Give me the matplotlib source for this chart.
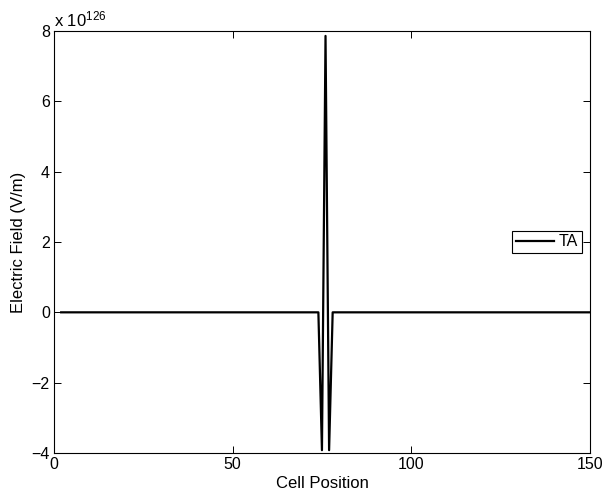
import numpy as np
import matplotlib
matplotlib.use("Agg")
from matplotlib import pyplot as plt

# cell positions 2..150, field is zero except for the blow-up around cell 76
cells = np.arange(2, 151)
spike_cells = [75, 76, 77]
spike_values = [-3.92e126, 7.86e126, -3.92e126]

field = np.zeros(len(cells))
for c, v in zip(spike_cells, spike_values):
    field[c - cells[0]] = v

scale = 1e126
xticks = [0, 50, 100, 150]
yticks = [-4, -2, 0, 2, 4, 6, 8]

plt.rcParams['font.family'] = ['Liberation Sans', 'DejaVu Sans']
plt.rcParams['mathtext.default'] = 'regular'

fig = plt.figure(figsize=(6.05, 4.96), dpi=100)
ax = fig.add_axes([0.0893, 0.0867, 0.8857, 0.8508])

ax.plot(cells, field / scale, color='black', linewidth=1.6, label='TA')

ax.set_xlim(0, 150)
ax.set_ylim(-4, 8)
ax.set_xticks(xticks)
ax.set_yticks(yticks)
ax.set_yticklabels(['\u22124', '\u22122', '0', '2', '4', '6', '8'])
ax.tick_params(direction='in', top=True, right=True, labelsize=11.5,
               length=5, width=0.7, pad=3)
for s in ax.spines.values():
    s.set_linewidth(0.8)

ax.set_xlabel('Cell Position', fontsize=12, labelpad=3)
ax.set_ylabel('Electric Field (V/m)', fontsize=12, labelpad=4)
ax.text(0.0, 1.003, 'x 10$^{126}$', transform=ax.transAxes, fontsize=12,
        ha='left', va='bottom')

leg = ax.legend(loc='center right', fontsize=11.5, fancybox=False, framealpha=1,
                handlelength=2.4, borderaxespad=0.5, borderpad=0.25,
                handletextpad=0.3)
leg.get_frame().set_edgecolor('black')
leg.get_frame().set_linewidth(0.8)

fig.savefig('out.png', dpi=100)
